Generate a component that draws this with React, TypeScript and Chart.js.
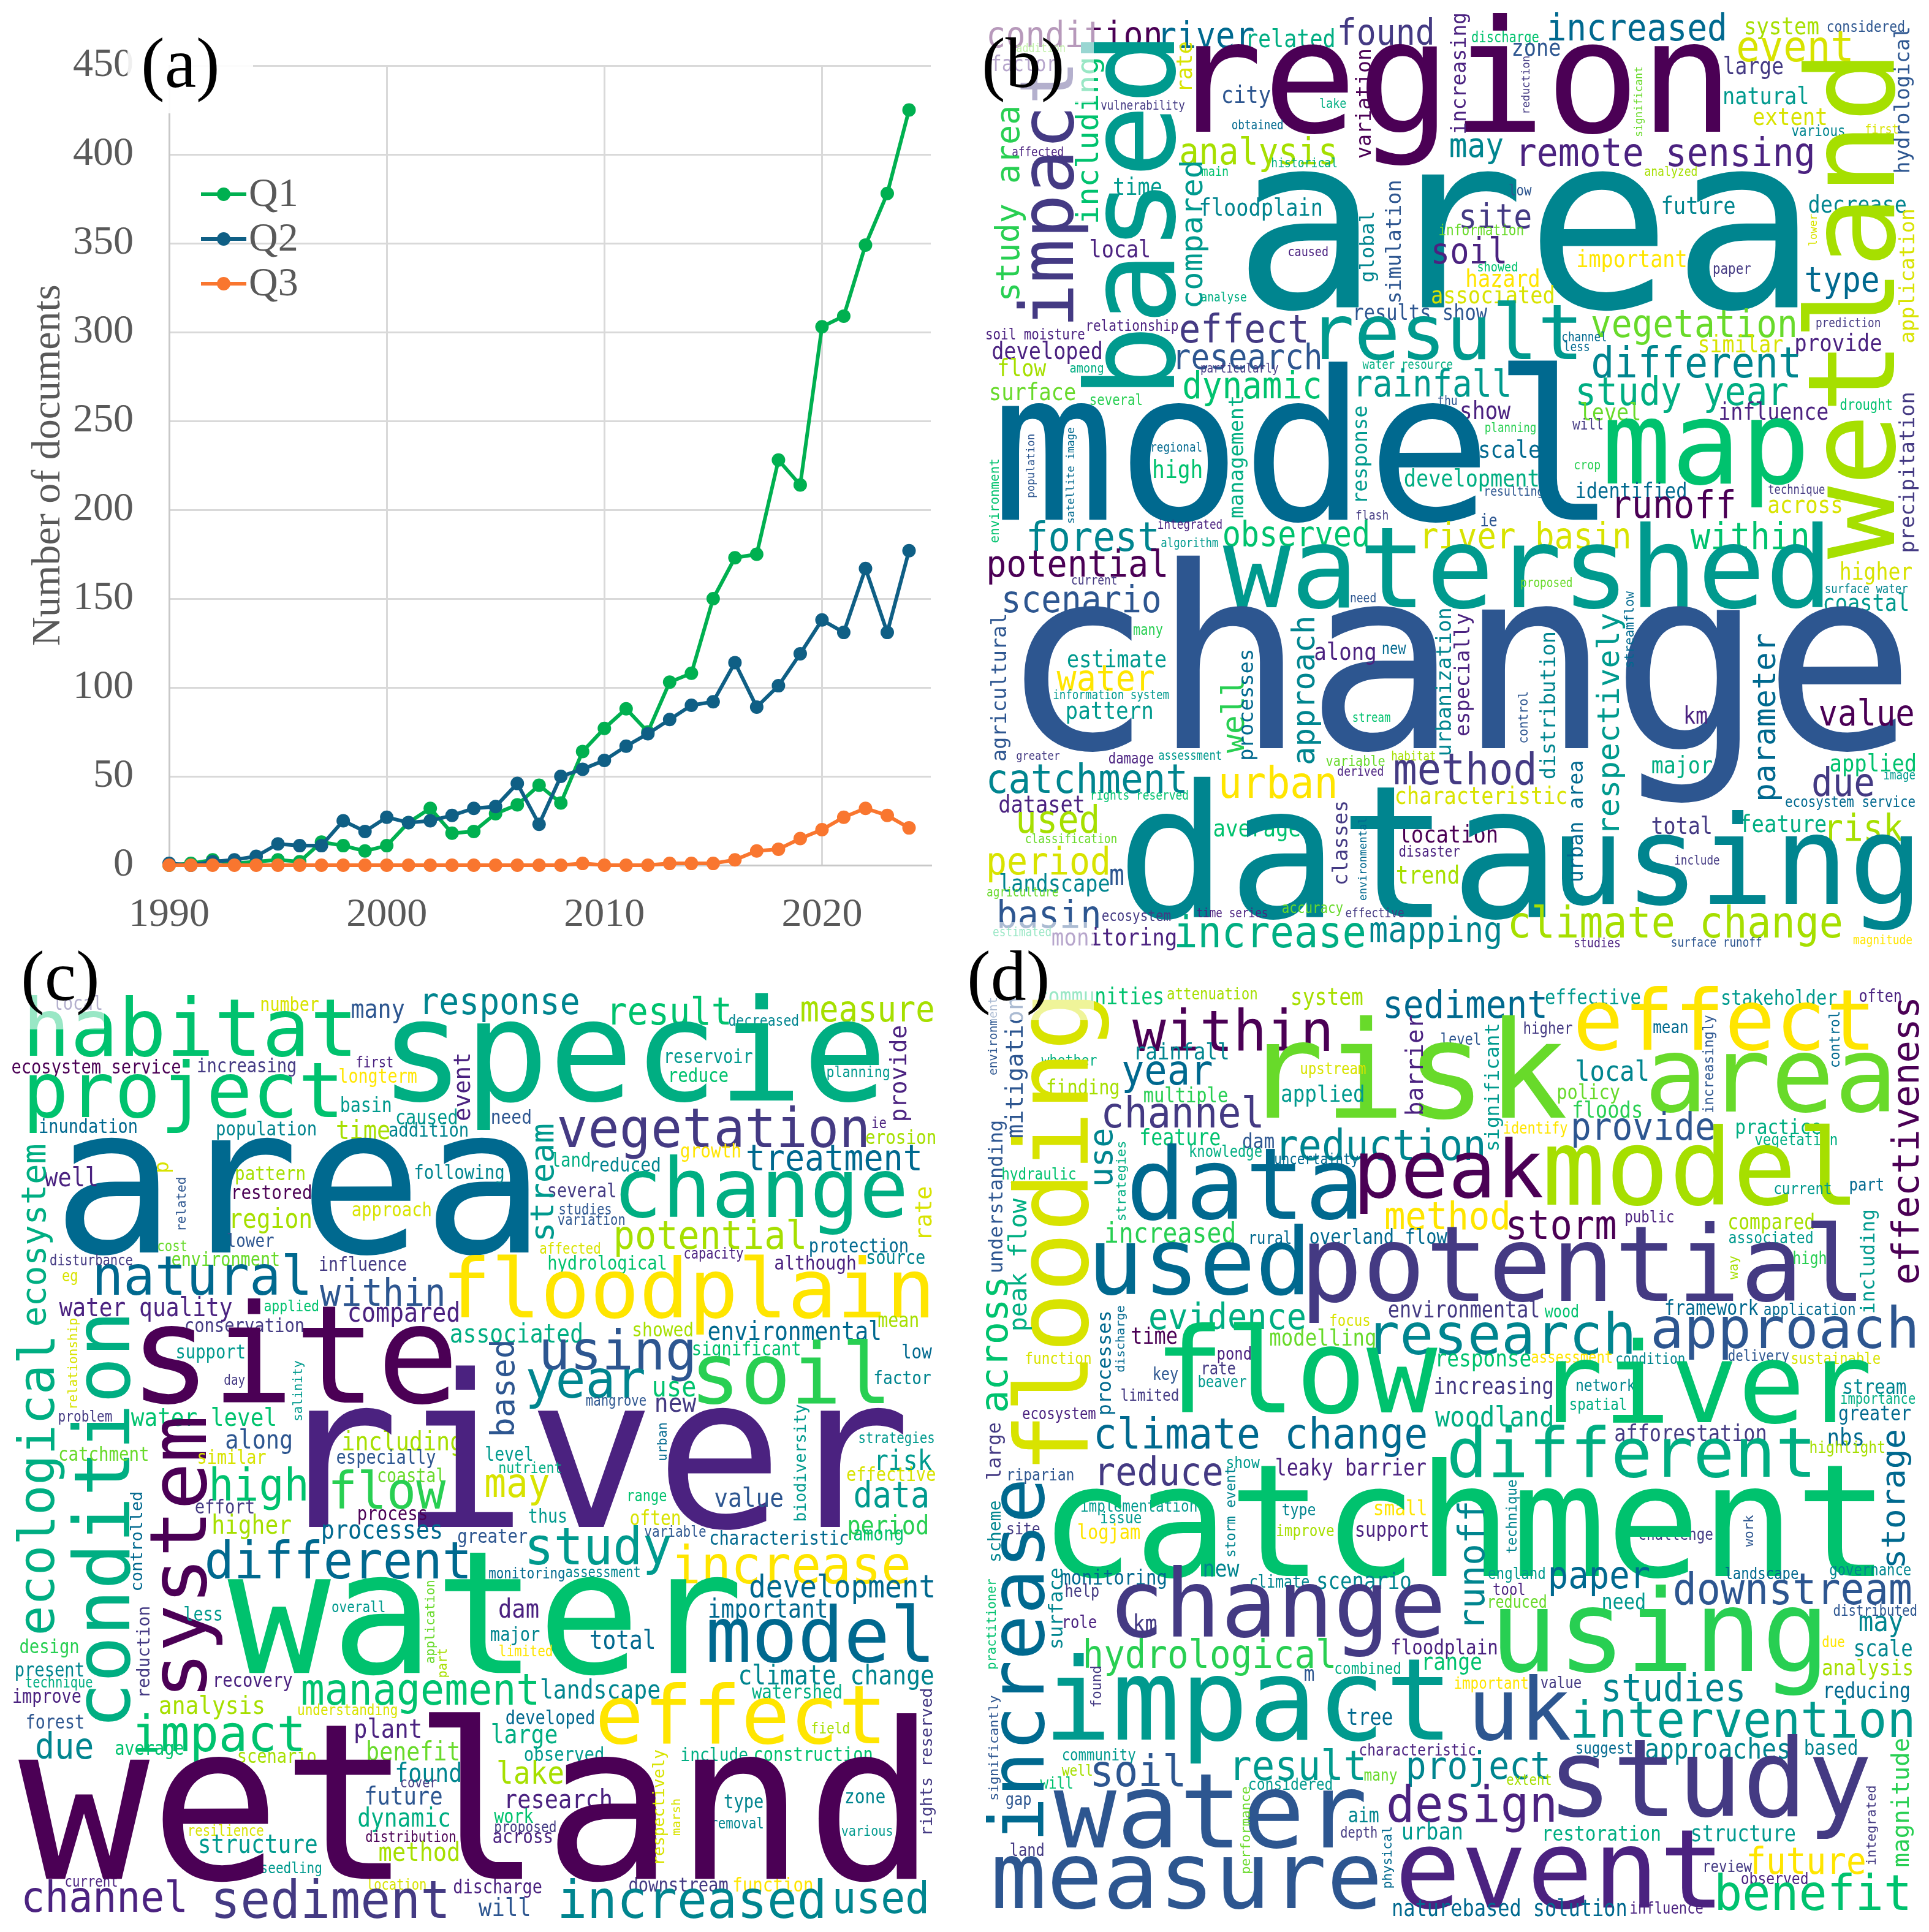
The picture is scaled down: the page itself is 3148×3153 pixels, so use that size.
import React, { useEffect, useRef } from "react";
import { Chart, registerables } from "chart.js";

Chart.register(...registerables);

const years = [1990,1991,1992,1993,1994,1995,1996,1997,1998,1999,2000,2001,2002,2003,2004,2005,2006,2007,2008,2009,2010,2011,2012,2013,2014,2015,2016,2017,2018,2019,2020,2021,2022,2023,2024];
const q1 = [0,1,3,1,2,3,2,13,11,8,11,24,32,18,19,29,34,45,35,64,77,88,75,103,108,150,173,175,228,214,303,309,349,378,425];
const q2 = [1,0,2,3,5,12,11,11,25,19,27,24,25,28,32,33,46,23,50,54,59,67,74,82,90,92,114,89,101,119,138,131,167,131,177];
const q3 = [0,0,0,0,0,0,0,0,0,0,0,0,0,0,0,0,0,0,0,1,0,0,0,1,1,1,3,8,9,15,20,27,32,28,21];
const yTicksMax = 450;

const PAL = ["#4b0055","#4b2280","#443a83","#2d5690","#00698f","#00858f","#009a8e","#00ae82","#00c26e","#28cf52","#68da2a","#a6df00","#d8e300","#ffe500"];

// word, from, to, cross position, palette index, rotated flag
// horizontal: x0, x1, top. rotated: y0, y1, left.
type W = [string, number, number, number, number, number?];

const bTop: W[] = [
["condition",40,318,62,0],["river",322,470,65,4],["related",462,600,90,7],["found",610,760,55,2],["increased",950,1235,40,4],["system",1270,1388,55,11],["considered",1403,1527,65,3],["discharge",825,933,100,8],["region",375,1230,40,0],["event",1258,1440,100,12],["zone",892,968,135,3],["large",1235,1330,180,2],["city",420,497,270,3],["natural",1235,1370,275,6],["extent",1283,1400,345,12],["vulnerability",222,358,320,2],["lake",578,620,313,7],["obtained",435,517,383,4],["various",1345,1430,398,5],["first",1465,1517,395,12],["addition",85,163,138,10],["factor",45,150,175,1],["analysis",352,602,435,11],["may",790,875,440,5],["remote sensing",905,1378,435,1],["affected",78,160,468,1],["historical",500,605,503,7],["main",386,428,530,8],["analyzed",1106,1190,530,11],["area",460,1355,540,5],["low",886,922,588,3],["time",243,320,565,6],["floodplain",384,580,632,5],["site",808,920,645,2],["future",1135,1252,625,5],["decrease",1373,1530,622,5],["information",772,908,715,10],["local",205,300,765,1],["soil",763,878,755,1],["important",997,1172,797,13],["caused",527,590,787,1],["showed",835,898,835,8],["hazard",817,933,858,13],["paper",1218,1278,848,2],["type",1368,1485,855,4],["analyse",385,458,933,7],["associated",760,957,912,12],["results show",636,850,970,3],["effect",352,555,1000,2],["result",580,995,960,6],["vegetation",1020,1350,985,10],["relationship",200,347,1020,1],["prediction",1385,1488,1015,2],["soil moisture",36,195,1048,1],["developed",46,222,1090,1],["research",346,578,1095,3],["similar",1195,1330,1068,12],["provide",1352,1490,1065,1],["channel",972,1043,1060,4],["less",975,1015,1092,4],["different",1022,1355,1105,5],["flow",56,133,1145,11],["among",172,225,1168,7],["water resource",647,793,1152,7],["particularly",385,510,1160,2],["dynamic",357,577,1185,8],["rainfall",640,885,1178,6],["surface",43,180,1222,10],["study year",998,1338,1200,7],["several",205,288,1258,9],["show",808,888,1280,1],["thu",770,800,1263,3],["influence",1228,1403,1285,1],["level",1002,1097,1285,10],["drought",1424,1507,1275,8],["planning",847,928,1350,9],["will",988,1037,1337,2],["map",1045,1365,1335,8],["regional",305,385,1413,4],["scale",838,935,1405,4],["high",308,385,1470,8],["crop",992,1033,1478,9],["development",716,932,1497,7],["resulting",847,940,1553,3],["identified",995,1172,1540,4],["technique",1307,1398,1550,2],["model",60,1030,1150,4],
["variation",160,505,635,0,1],["increasing",45,425,790,1,1],["based",135,1240,190,6,1],["impact",215,1030,85,2,1],["wetland",195,1788,1360,11,1],["hydrological",90,550,1510,3,1],["application",672,1095,1518,12,1],["lower",685,785,1372,12,1],["significant",215,435,1088,10,1],["reduction",180,360,905,2,1],["rate",135,285,345,12,1],["including",190,710,178,8,1],["study area",345,955,48,9,1],["compared",520,980,348,6,1],["global",680,900,640,5,1],["simulation",580,965,683,3,1],["management",1270,1655,430,7,1],["response",1300,1602,635,6,1],["population",1390,1590,100,3,1],["satellite image",1368,1672,165,4,1],["environment",1470,1735,40,8,1],["precipitation",1258,1763,1518,2,1],
];

const bBottom: W[] = [
["runoff",1060,1250,-5,0],["across",1307,1425,30,12],["flash",637,688,65,2],["ie",840,865,78,3],["integrated",315,418,98,1],["forest",105,312,100,5],["observed",422,655,100,8],["river basin",748,1080,105,12],["within",1180,1370,105,8],["algorithm",320,412,160,6],["watershed",420,1395,105,6],["potential",40,327,195,0],["higher",1425,1540,240,12],["current",175,247,287,2],["proposed",905,987,293,10],["surface water",1400,1533,315,5],["scenario",65,317,315,3],["need",628,668,345,3],["coastal",1398,1533,345,6],["change",95,1525,220,3],["many",275,322,458,9],["along",570,667,508,1],["new",680,718,520,4],["estimate",168,327,535,6],["water",150,308,590,13],["information system",145,332,672,6],["pattern",167,305,712,6],["value",1390,1542,700,0],["km",1172,1207,725,1],["stream",632,692,750,8],["greater",85,155,878,2],["damage",235,307,882,1],["assessment",316,417,878,6],["variable",588,683,890,10],["habitat",695,765,878,11],["major",1118,1215,893,7],["applied",1408,1545,885,8],["derived",607,680,928,1],["method",700,925,880,2],["catchment",40,358,915,5],["urban",418,602,925,13],["image",1495,1545,942,6],["due",1380,1477,930,2],["rights reserved",207,363,1008,8],["characteristic",702,978,995,12],["ecosystem service",1335,1545,1028,4],["dataset",57,193,1025,1],["used",88,215,1055,11],["average",406,545,1120,8],["total",1118,1213,1095,2],["feature",1262,1400,1090,7],["risk",1405,1525,1085,11],["using",970,1540,1075,5],["location",708,865,1125,0],["classification",100,247,1155,10],["disaster",707,805,1195,1],["include",1155,1227,1227,2],["period",40,233,1195,12],["trend",703,802,1262,11],["landscape",58,235,1290,5],["m",237,258,1275,3],["agriculture",37,152,1335,10],["basin",57,218,1375,3],["data",265,945,965,5],["ecosystem",224,335,1415,2],["time series",378,492,1405,1],["accuracy",517,615,1395,10],["effective",620,714,1405,2],["increase",345,650,1428,7],["mapping",660,870,1430,5],["climate change",888,1425,1395,11],["estimated",47,140,1470,8],["monitoring",143,343,1470,1],["studies",992,1065,1505,1],["surface runoff",1150,1295,1505,3],["magnitude",1445,1540,1495,13],
["agricultural",420,910,42,3,1],["well",640,885,415,9,1],["processes",540,905,450,4,1],["approach",430,920,530,5,1],["urbanization",400,890,765,5,1],["especially",415,825,795,1,1],["distribution",480,970,935,5,1],["control",680,850,900,3,1],["respectively",415,1145,1025,6,1],["streamflow",340,595,1072,4,1],["parameter",485,1040,1282,4,1],["classes",1050,1325,597,2,1],["environmental",1105,1380,640,4,1],["urban area",915,1315,980,4,1],
];

const cTop: W[] = [
["local",88,165,125,2],["number",425,518,130,12],["habitat",48,570,125,8],["many",572,657,150,3],["response",690,940,118,5],["result",995,1185,125,8],["measure",1303,1517,145,11],["decreased",1185,1297,185,5],["specie",640,1430,122,7],["ecosystem service",20,293,328,0],["increasing",322,480,325,2],["project",48,548,330,8],["first",580,638,320,1],["longterm",552,677,358,13],["reservoir",1083,1223,295,6],["reduce",1090,1183,355,8],["planning",1345,1445,350,6],["basin",555,635,450,6],["caused",645,742,490,6],["need",800,862,488,3],["inundation",65,222,520,4],["population",353,513,525,5],["time",548,633,523,11],["addition",633,760,530,5],["vegetation",908,1408,480,2],["ie",1418,1440,515,1],["erosion",1408,1520,553,11],["growth",1107,1203,597,13],["treatment",1215,1495,605,4],["land",897,958,625,7],["reduced",962,1072,642,5],["area",105,860,575,4],["well",72,157,672,1],["pattern",384,495,672,11],["following",675,818,665,5],["restored",380,505,730,0],["several",892,1000,725,2],["change",1008,1470,635,7],["approach",573,700,785,12],["studies",910,993,790,3],["variation",907,1015,825,3],["region",378,505,805,11],["potential",1002,1307,840,11],["lower",370,445,885,3],["cost",257,303,912,10],["affected",878,975,915,12],["protection",1317,1475,902,4],["capacity",1113,1208,932,1],["disturbance",82,215,953,2],["environment",280,453,945,10],["hydrological",892,1082,955,8],["influence",520,660,960,2],["although",1260,1390,955,1],["source",1410,1503,950,5],["natural",157,500,950,4],["within",520,720,1025,3],["eg",102,125,1012,12],["floodplain",730,1510,955,13],["water quality",96,377,1090,1],["applied",430,517,1098,8],["compared",568,745,1105,1],["conservation",302,493,1155,2],["associated",733,945,1175,7],["showed",1030,1125,1168,11],["environmental",1152,1430,1165,4],["mean",1428,1492,1150,11],["significant",1127,1300,1230,8],["using",883,1125,1190,3],["site",232,735,1095,0],["support",288,397,1243,6],["low",1467,1515,1238,4],["soil",1135,1437,1225,9],["year",858,1047,1318,5],["factor",1422,1513,1325,5],["day",365,398,1338,2],["use",1063,1130,1358,8],["mangrove",953,1050,1412,3],["new",1067,1132,1410,2],["problem",96,182,1452,2],["water level",213,447,1440,8],["along",368,473,1512,3],["including",558,750,1518,11],["river",500,1470,1310,1],["strategies",1397,1518,1522,6],
["ecosystem",605,1180,35,7,1],["ecological",1225,2165,25,7,1],["condition",1155,2451,115,7,1],["system",1480,2353,245,0,1],["event",315,525,738,1,1],["stream",540,905,862,6,1],["provide",225,525,1445,1,1],["rate",740,900,1488,12,1],["p",660,690,255,12,1],["related",710,875,285,3,1],["relationship",1160,1445,110,12,1],["salinity",1295,1485,475,6,1],["based",1235,1530,795,3,1],["urban",1495,1613,1068,4,1],["biodiversity",1435,1806,1290,6,1],
];

const cBottom: W[] = [
["catchment",97,240,0,10],["similar",323,432,10,12],["especially",548,708,8,3],["level",790,865,0,6],["risk",1427,1515,8,6],["nutrient",812,912,48,7],["coastal",615,722,68,10],["effective",1377,1520,65,12],["high",345,497,65,8],["flow",540,725,75,9],["may",790,892,90,12],["value",1162,1272,130,3],["data",1390,1507,110,6],["effort",318,412,170,2],["range",1022,1083,148,8],["process",583,693,203,0],["thus",860,920,200,6],["often",1025,1105,205,12],["higher",347,473,220,11],["period",1380,1507,220,9],["variable",1048,1147,255,3],["processes",525,717,250,4],["greater",745,857,268,3],["characteristic",1155,1378,270,4],["among",1388,1467,268,8],["study",860,1090,255,6],["increase",1097,1477,315,13],["different",337,760,300,4],["monitoring",795,917,390,4],["assessment",920,1040,390,5],["water",370,1200,345,8],["development",1220,1517,410,4],["important",1153,1343,490,4],["model",1153,1510,505,4],["overall",540,625,498,6],["less",300,360,515,6],["dam",812,875,490,1],["total",960,1063,590,4],["major",798,877,580,5],["design",33,127,620,9],["limited",812,897,640,13],["present",26,135,700,5],["technique",42,150,742,7],["recovery",350,475,742,1],["management",492,872,738,8],["climate change",1203,1517,703,5],["landscape",880,1072,750,5],["improve",22,131,782,1],["watershed",1222,1367,767,7],["analysis",260,428,800,11],["understanding",485,645,830,12],["forest",44,135,865,3],["plant",578,683,875,1],["developed",823,965,850,4],["effect",975,1430,760,13],["impact",220,490,860,8],["due",60,150,920,5],["large",800,905,895,7],["field",1320,1380,890,11],["benefit",598,745,950,10],["average",188,298,960,8],["scenario",388,513,975,11],["observed",853,980,968,6],["include",1108,1215,970,7],["construction",1227,1417,968,8],["found",645,748,1020,5],["lake",810,915,1010,11],["cover",652,710,1075,2],["future",595,718,1095,3],["research",825,993,1105,1],["type",1178,1240,1125,5],["zone",1375,1438,1115,5],["work",803,867,1168,8],["dynamic",583,730,1165,7],["removal",1158,1240,1197,5],["proposed",805,903,1208,2],["resilience",308,428,1220,12],["various",1368,1450,1222,6],["distribution",595,740,1240,0],["across",802,897,1245,1],["structure",325,515,1255,6],["method",617,745,1275,11],["seedling",425,522,1340,6],["location",597,692,1395,12],["current",107,190,1388,1],["discharge",738,880,1395,1],["downstream",1023,1183,1390,2],["function",1193,1320,1390,13],["channel",40,300,1395,1],["sediment",350,725,1395,2],["wetland",30,1490,855,0],["increased",912,1337,1395,5],["used",1358,1505,1400,5],["will",778,860,1455,3],
["controlled",150,465,210,4,1],["reduction",520,805,222,2,1],["application",435,700,690,10,1],["part",655,745,712,11,1],["marsh",1140,1255,1090,12,1],["respectively",980,1345,1060,12,1],["rights reserved",785,1250,1495,2,1],
];

const dTop: W[] = [
["communities",120,322,100,8],["attenuation",330,475,100,11],["system",533,647,105,11],["sediment",685,943,105,4],["effective",945,1098,105,6],["stakeholder",1232,1418,105,6],["often",1455,1522,105,1],["effect",997,1470,95,13],["within",273,593,165,0],["higher",910,988,210,2],["level",775,838,245,3],["mean",1120,1175,215,4],["risk",490,978,190,10],["rainfall",280,428,275,5],["whether",125,215,312,7],["upstream",547,652,342,12],["year",258,402,335,4],["local",995,1110,330,5],["finding",135,250,393,11],["policy",965,1065,408,10],["multiple",292,427,418,9],["applied",516,648,410,6],["area",1115,1503,305,10],["floods",990,1100,460,9],["channel",227,482,445,2],["provide",990,1218,495,3],["practice",1255,1392,520,7],["identify",877,980,530,13],["feature",287,415,550,8],["dam",453,503,565,3],["reduction",515,843,550,5],["vegetation",1285,1418,565,7],["knowledge",367,483,603,7],["uncertainty",505,640,630,4],["peak",643,940,580,0],["model",947,1440,535,11],["hydraulic",62,180,675,8],["data",272,637,600,4],["current",1317,1408,725,6],["part",1440,1493,712,4],["method",685,883,780,13],["storm",885,1058,815,0],["public",1075,1152,813,1],["compared",1243,1380,822,11],["rural",465,530,878,4],["overland flow",562,785,870,4],["increased",230,438,850,9],["associated",1243,1378,878,6],["used",213,550,855,4],["potential",560,1450,845,2],["high",1348,1400,945,9],["environmental",690,933,1100,2],["wood",943,997,1115,8],["framework",1140,1290,1100,4],["application",1300,1447,1108,4],["evidence",302,553,1105,7],["focus",595,658,1145,12],["research",668,1085,1135,5],["approach",1120,1545,1115,3],["time",272,345,1185,0],["modelling",497,667,1190,10],["response",770,920,1270,8],["assessment",922,1052,1265,13],["condition",1060,1170,1268,5],["delivery",1242,1340,1258,3],["sustainable",1345,1488,1265,12],["function",100,205,1265,12],["pond",412,465,1250,1],["rate",388,440,1300,2],["key",308,347,1315,3],["beaver",381,458,1340,6],["increasing",765,955,1345,2],["network",995,1090,1350,5],["stream",1430,1530,1355,5],["importance",1425,1545,1397,7],["limited",255,347,1383,2],["spatial",985,1075,1412,7],["greater",1422,1538,1440,4],["ecosystem",95,213,1445,1],["woodland",765,955,1435,7],["flow",325,770,1170,8],["river",960,1470,1220,8],["climate change",215,750,1470,4],["afforestation",1058,1302,1497,2],["nbs",1405,1460,1508,4],["highlight",1375,1495,1548,11],["different",790,1375,1500,7],
["flooding",140,1627,75,12,1],["environment",135,380,38,3,1],["mitigation",135,580,65,3,1],["understanding",530,1010,38,3,1],["peak flow",775,1195,70,7,1],["across",1035,1455,35,8,1],["use",555,730,210,5,1],["strategies",595,845,245,7,1],["barrier",190,505,715,1,1],["significant",220,620,845,6,1],["increasingly",190,500,1200,3,1],["control",180,355,1405,4,1],["effectiveness",140,1045,1505,0,1],["including",815,1140,1455,6,1],["way",960,1035,1245,11,1],["processes",1140,1465,220,4,1],["discharge",1120,1330,245,4,1],["large",1495,1673,35,2,1],
];

const dBottom: W[] = [
["reduce",220,418,30,2],["show",427,480,30,6],["leaky barrier",507,750,38,1],["riparian",72,177,70,3],["implementation",190,377,170,6],["issue",222,287,208,6],["type",517,570,185,5],["small",667,750,170,13],["site",70,122,243,2],["logjam",185,285,250,13],["improve",508,600,250,11],["support",637,753,245,1],["challenge",1097,1216,262,2],["catchment",145,1480,35,8],["monitoring",157,327,395,4],["new",390,447,378,5],["england",852,943,388,6],["landscape",1237,1355,388,4],["governance",1407,1538,388,5],["climate",465,560,415,5],["scenario",575,725,405,5],["help",165,218,445,2],["tool",860,910,440,1],["paper",953,1113,390,4],["downstream",1155,1538,405,3],["reduced",853,945,480,10],["need",1038,1105,472,6],["distributed",1413,1547,510,3],["role",162,214,545,1],["km",277,312,540,2],["may",1455,1525,545,5],["change",247,775,385,2],["due",1395,1430,612,13],["scale",1448,1540,622,5],["floodplain",695,865,620,1],["hydrological",197,600,620,9],["combined",603,708,695,7],["range",748,840,678,8],["using",870,1390,448,9],["analysis",1395,1540,685,11],["m",553,568,720,3],["important",797,915,742,13],["value",937,1002,740,2],["reducing",1400,1535,760,4],["studies",1040,1265,730,5],["tree",623,695,848,4],["impact",143,778,668,6],["uk",830,985,735,3],["intervention",990,1540,815,6],["characteristic",643,830,958,1],["suggest",995,1085,955,4],["approaches",1108,1340,940,5],["based",1367,1450,945,5],["community",160,278,975,6],["result",440,648,975,6],["project",722,948,980,5],["soil",210,355,990,3],["well",158,207,1025,11],["many",650,703,1050,10],["extent",882,953,1060,11],["will",123,175,1065,8],["considered",463,597,1068,6],["gap",68,108,1128,3],["study",965,1470,930,2],["water",145,650,1060,3],["design",690,958,1090,1],["aim",625,673,1165,5],["depth",612,670,1228,2],["urban",713,808,1210,6],["restoration",943,1130,1222,7],["structure",1183,1350,1225,6],["land",75,128,1280,2],["future",1275,1463,1290,13],["review",1203,1280,1335,2],["observed",1263,1370,1372,1],["measure",50,672,1320,3],["event",710,1220,1240,1],["benefit",1225,1533,1375,8],["naturebased solution",697,1075,1460,4],["influence",1083,1200,1468,1],
["increase",115,1260,35,4,1],["storage",-50,385,1490,4,1],["scheme",178,370,38,5,1],["storm event",70,355,425,5,1],["runoff",185,575,800,5,1],["technique",110,345,880,5,1],["work",222,325,1265,3,1],["surface",395,650,135,5,1],["practitioner",428,718,35,8,1],["found",712,840,205,2,1],["significantly",805,1140,38,3,1],["performance",1100,1378,448,10,1],["physical",1230,1425,678,4,1],["magnitude",945,1355,1505,9,1],["integrated",1098,1350,1465,2,1],
];

const KX = 1.004;
const FONT = '"DejaVu Sans Mono"';

function stretchFor(fontPx: number) {
  if (fontPx <= 25) return 1.18;
  if (fontPx >= 100) return 1.0;
  return 1.18 - ((fontPx - 25) / 75) * 0.18;
}

function place(list: W[], ox: number, oy: number, ky: number) {
  return list.map(([word, a, b, c, col, rot]) =>
    rot
      ? { x: ox + c * KX, y: oy + a * ky, x2: oy + b * ky, word, col, rot: 1 }
      : { x: ox + a * KX, y: oy + c * ky, x2: ox + b * KX, word, col, rot: 0 }
  );
}

const cloudPlugin = {
  id: "cloud",
  afterDatasetsDraw(chart: any) {
    const { ctx, scales } = chart;
    const opt = chart.options.plugins.cloud;
    const pts = chart.data.datasets[0].data;
    ctx.save();
    ctx.textAlign = "left";
    ctx.textBaseline = "alphabetic";
    for (const p of pts) {
      ctx.font = `100px ${FONT}`;
      const m = ctx.measureText(p.word);
      const inkW = m.actualBoundingBoxLeft + m.actualBoundingBoxRight;
      const asc = m.actualBoundingBoxAscent;
      const left = m.actualBoundingBoxLeft;
      ctx.fillStyle = PAL[p.col];
      ctx.save();
      if (p.rot) {
        const y0 = scales.y.getPixelForValue(p.y);
        const y1 = scales.y.getPixelForValue(p.x2);
        const k = (y1 - y0) / inkW;
        const X = scales.x.getPixelForValue(p.x);
        ctx.font = `${k * 100}px ${FONT}`;
        ctx.translate(X + asc * k, y1 - left * k);
        ctx.rotate(-Math.PI / 2);
      } else {
        const x0 = scales.x.getPixelForValue(p.x);
        const x1 = scales.x.getPixelForValue(p.x2);
        const top = scales.y.getPixelForValue(p.y);
        const k = (x1 - x0) / inkW;
        const sy = stretchFor(k * 100);
        ctx.font = `${k * 100}px ${FONT}`;
        ctx.translate(x0 + left * k, top + asc * k * sy);
        ctx.scale(1, sy);
      }
      ctx.fillText(p.word, 0, 0);
      ctx.restore();
    }
    ctx.restore();
    drawTag(chart, opt);
  },
};

function drawTag(chart: any, opt: any) {
  const { ctx } = chart;
  ctx.save();
  ctx.fillStyle = `rgba(255,255,255,${opt.fade})`;
  ctx.fillRect(opt.box[0], opt.box[1], opt.box[2], opt.box[3]);
  ctx.fillStyle = "#000";
  ctx.font = '116px "Liberation Serif"';
  ctx.textAlign = "left";
  ctx.textBaseline = "alphabetic";
  ctx.fillText(opt.tag, opt.at[0], opt.at[1]);
  ctx.restore();
}

const linePlugin = {
  id: "lineExtras",
  afterDraw(chart: any) {
    const { ctx } = chart;
    ctx.save();
    chart.data.datasets.forEach((d: any, i: number) => {
      const y = 317 + i * 73;
      ctx.strokeStyle = d.borderColor;
      ctx.lineWidth = 6;
      ctx.beginPath();
      ctx.moveTo(328, y);
      ctx.lineTo(402, y);
      ctx.stroke();
      ctx.fillStyle = d.borderColor;
      ctx.beginPath();
      ctx.arc(365, y, 11, 0, Math.PI * 2);
      ctx.fill();
      ctx.fillStyle = "#595959";
      ctx.font = '66px "Liberation Serif"';
      ctx.textBaseline = "middle";
      ctx.textAlign = "left";
      ctx.fillText(d.label, 406, y + 2);
    });
    ctx.restore();
    drawTag(chart, chart.options.plugins.lineExtras);
  },
};

const panels = [
  { left: 1574, top: 0, w: 1574, h: 1560, tag: "(b)", at: [28, 142], box: [16, 20, 195, 148], fade: 0.6,
    words: [...place(bTop, 1574, 0, 800 / 1568), ...place(bBottom, 1574, 800, 760 / 1568)] },
  { left: 0, top: 1500, w: 1574, h: 1653, tag: "(c)", at: [34, 132], box: [30, 30, 140, 150], fade: 0.6,
    words: [...place(cTop, 0, 1560, 800 / 1568), ...place(cBottom, 0, 2360, 793 / 1568)] },
  { left: 1574, top: 1500, w: 1574, h: 1653, tag: "(d)", at: [4, 132], box: [16, 5, 195, 160], fade: 0.6,
    words: [...place(dTop, 1574, 1560, 800 / 1568), ...place(dBottom, 1574, 2360, 793 / 1568)] },
];

export default function App() {
  const aRef = useRef<HTMLCanvasElement | null>(null);
  const refs = useRef<(HTMLCanvasElement | null)[]>([]);

  useEffect(() => {
    document.body.style.margin = "0";
    const charts: Chart[] = [];
    const tickFont = { family: "Liberation Serif", size: 66 };
    charts.push(
      new Chart(aRef.current as HTMLCanvasElement, {
        type: "line",
        plugins: [linePlugin],
        data: {
          datasets: [
            { label: "Q1", data: years.map((x, i) => ({ x, y: q1[i] })), borderColor: "#00b050", backgroundColor: "#00b050", order: 3 },
            { label: "Q2", data: years.map((x, i) => ({ x, y: q2[i] })), borderColor: "#0f5f85", backgroundColor: "#0f5f85", order: 2 },
            { label: "Q3", data: years.map((x, i) => ({ x, y: q3[i] })), borderColor: "#f9762f", backgroundColor: "#f9762f", order: 1 },
          ],
        },
        options: {
          animation: false,
          responsive: false,
          devicePixelRatio: 1,
          layout: { padding: { top: 107, right: 55, left: 0, bottom: 0 } },
          elements: { point: { radius: 11, borderWidth: 0, hoverRadius: 11 }, line: { borderWidth: 6, tension: 0 } },
          datasets: { line: { clip: false } },
          scales: {
            x: {
              type: "linear", min: 1990, max: 2025,
              grid: { color: "#d9d9d9", lineWidth: 3, drawTicks: false },
              border: { color: "#c8c8c8", width: 3 },
              ticks: { stepSize: 10, includeBounds: false, font: tickFont, color: "#595959", padding: 42, maxRotation: 0, callback: (v: any) => String(v) },
              afterFit: (s: any) => { s.height = 148; },
            },
            y: {
              min: 0, max: yTicksMax,
              grid: { color: "#d9d9d9", lineWidth: 3, drawTicks: false },
              border: { color: "#c8c8c8", width: 3 },
              ticks: { stepSize: 50, font: tickFont, color: "#595959", padding: 58 },
              title: { display: true, text: "Number of documents", font: { family: "Liberation Serif", size: 66 }, color: "#595959", padding: { top: 40, bottom: 0 } },
              afterFit: (s: any) => { s.width = 276; },
            },
          },
          plugins: {
            legend: { display: false },
            tooltip: { enabled: false },
            lineExtras: { tag: "(a)", at: [230, 142], box: [208, 45, 205, 140], fade: 0.9 },
          },
        } as any,
      })
    );
    panels.forEach((p, i) => {
      charts.push(
        new Chart(refs.current[i] as HTMLCanvasElement, {
          type: "scatter",
          plugins: [cloudPlugin],
          data: { datasets: [{ data: p.words as any, pointRadius: 0, clip: false } as any] },
          options: {
            animation: false,
            responsive: false,
            devicePixelRatio: 1,
            layout: { padding: 0 },
            scales: {
              x: { type: "linear", display: false, min: p.left, max: p.left + p.w },
              y: { type: "linear", display: false, min: p.top, max: p.top + p.h, reverse: true },
            },
            plugins: {
              legend: { display: false },
              tooltip: { enabled: false },
              cloud: { tag: p.tag, at: p.at, box: p.box, fade: p.fade },
            },
          } as any,
        })
      );
    });
    return () => charts.forEach((c) => c.destroy());
  }, []);

  return (
    <div style={{ position: "absolute", left: 0, top: 0, width: 3148, height: 3153, overflow: "hidden", background: "#fff" }}>
      <canvas ref={aRef} width={1574} height={1560} style={{ position: "absolute", left: 0, top: 0 }} />
      {panels.map((p, i) => (
        <canvas
          key={p.tag}
          ref={(el) => { refs.current[i] = el; }}
          width={p.w}
          height={p.h}
          style={{ position: "absolute", left: p.left, top: p.top }}
        />
      ))}
    </div>
  );
}
